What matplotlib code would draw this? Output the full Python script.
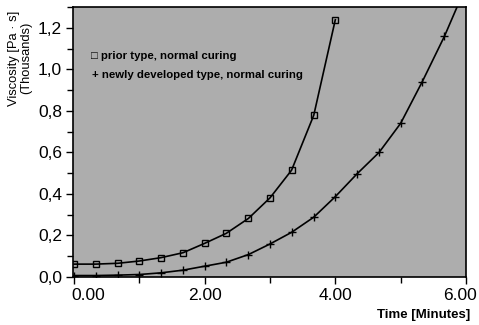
import numpy as np
import matplotlib
matplotlib.use("Agg")
import matplotlib.pyplot as plt
from matplotlib.ticker import MultipleLocator, FixedLocator
from matplotlib.transforms import ScaledTranslation

# --- data (time in minutes, viscosity in thousands Pa*s) ---
t_prior = [0.0, 0.33, 0.67, 1.0, 1.33, 1.67, 2.0, 2.33, 2.67, 3.0, 3.33, 3.67, 4.0]
v_prior = [0.062, 0.062, 0.066, 0.077, 0.093, 0.117, 0.162, 0.210, 0.282, 0.381,
           0.514, 0.779, 1.239]

t_new = [0.0, 0.33, 0.67, 1.0, 1.33, 1.67, 2.0, 2.33, 2.67, 3.0, 3.33, 3.67, 4.0,
         4.33, 4.67, 5.0, 5.33, 5.67, 6.0]
v_new = [0.007, 0.007, 0.009, 0.012, 0.020, 0.033, 0.052, 0.071, 0.108, 0.159,
         0.215, 0.288, 0.387, 0.496, 0.600, 0.740, 0.940, 1.159, 1.400]

x_ticks = [0, 2, 4, 6]
x_labels = ["0.00", "2.00", "4.00", "6.00"]
y_ticks = [0.0, 0.2, 0.4, 0.6, 0.8, 1.0, 1.2]
y_labels = ["0,0", "0,2", "0,4", "0,6", "0,8", "1,0", "1,2"]

legend_prior = "\u25a1 prior type, normal curing"
legend_new = "+ newly developed type, normal curing"

plt.rcParams['font.family'] = ['Liberation Sans', 'DejaVu Sans']

bg = '#adadad'
fig = plt.figure(figsize=(4.79, 3.25), dpi=100)
ax = fig.add_axes([73 / 479, 48 / 325, 393 / 479, 270 / 325])
ax.set_facecolor(bg)

ax.plot(t_prior, v_prior, color='black', lw=1.2, marker='s', ms=4.5,
        mfc='none', mec='black', mew=1.0, clip_on=True)
ax.plot(t_new, v_new, color='black', lw=1.2, marker='+', ms=6,
        mew=1.0, clip_on=True)

ax.set_xlim(-0.015, 6.0)
ax.set_ylim(0, 1.3)

ax.xaxis.set_major_locator(FixedLocator(x_ticks))
ax.set_xticklabels(x_labels)
ax.xaxis.set_minor_locator(FixedLocator([1, 3, 5]))
ax.yaxis.set_major_locator(FixedLocator(y_ticks))
ax.set_yticklabels(y_labels)
ax.yaxis.set_minor_locator(MultipleLocator(0.1))

ax.tick_params(axis='both', which='major', direction='out', length=5, width=1.0,
               labelsize=12.5, color='black')
ax.tick_params(axis='both', which='minor', direction='out', length=4, width=1.0)
ax.tick_params(axis='x', pad=3)
ax.tick_params(axis='y', pad=3)

# nudge end labels like the original
for lbl in ax.get_xticklabels():
    if lbl.get_text() == "0.00":
        lbl.set_ha('left')
        lbl.set_transform(lbl.get_transform() + ScaledTranslation(-3 / 100, 0, fig.dpi_scale_trans))
    if lbl.get_text() == "6.00":
        lbl.set_transform(lbl.get_transform() + ScaledTranslation(-6 / 100, 0, fig.dpi_scale_trans))

for s in ax.spines.values():
    s.set_linewidth(1.2)
    s.set_color('black')

ax.text(0.046, 0.818, legend_prior, transform=ax.transAxes, fontsize=8.2,
        fontweight='bold', va='center', ha='left')
ax.text(0.048, 0.748, legend_new, transform=ax.transAxes, fontsize=8.2,
        fontweight='bold', va='center', ha='left')

fig.text(470 / 479, 1 - 315 / 325, "Time [Minutes]", fontsize=9.5,
         fontweight='bold', ha='right', va='center')
fig.text(20 / 479, 1 - 58 / 325, "Viscosity [Pa \u00b7 s]\n(Thousands)",
         fontsize=9.3, rotation=90, ha='center', va='center', linespacing=1.1)

fig.savefig("out.png", dpi=100, facecolor='white')
